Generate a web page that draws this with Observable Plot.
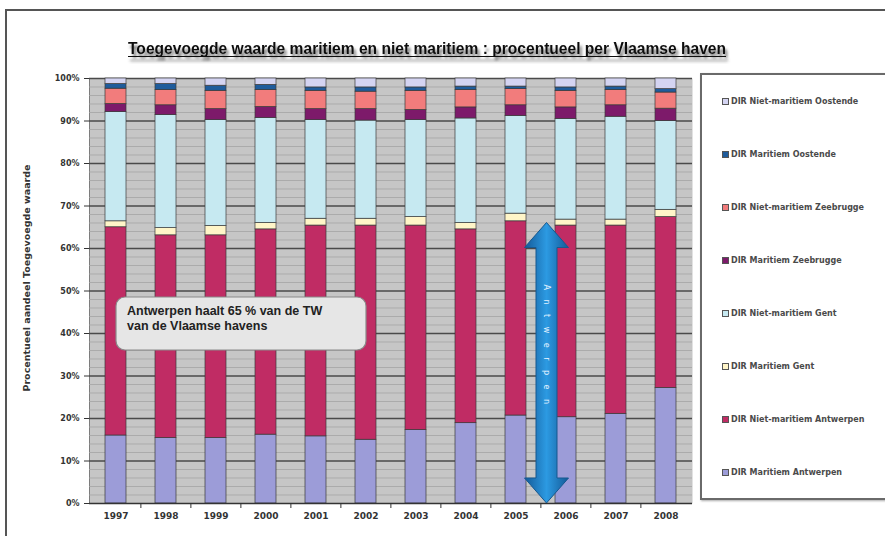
<!DOCTYPE html>
<html>
<head>
<meta charset="utf-8">
<script src="https://cdn.jsdelivr.net/npm/d3@7"></script>
<script src="https://cdn.jsdelivr.net/npm/@observablehq/plot@0.6"></script>
<style>
  body { margin: 0; background: #fff; }
  #wrap { position: relative; width: 885px; height: 536px; overflow: hidden; background: #fff; }
  #frame { position: absolute; left: 5px; top: 9px; width: 920px; height: 620px; border: 2px solid #555; box-sizing: border-box; }
  #chart, #overlay { position: absolute; left: 0; top: 0; }
  #overlay { pointer-events: none; }
  #legend { position: absolute; left: 700px; top: 73px; width: 220px; height: 427px; border: 2px solid #6a6a6a; background: #fff; box-sizing: border-box; box-shadow: 1px 1px 2px #aaa; }
  .item { position: absolute; left: 20px; font: bold 8px "DejaVu Sans", sans-serif; color: #4a4a4a; white-space: nowrap; display: flex; align-items: center; }
  .sw { width: 5px; height: 5px; border: 1px solid #555; margin-right: 2px; }
</style>
</head>
<body>
<div id="wrap">
  <div id="frame"></div>
  <div id="chart"></div>
  <div id="legend"></div>
  <svg id="overlay" width="885" height="536"></svg>
</div>
<script>
// ---------- data ----------
const years = ["1997","1998","1999","2000","2001","2002","2003","2004","2005","2006","2007","2008"];
const seriesNames = [
  "DIR Maritiem Antwerpen",
  "DIR Niet-maritiem Antwerpen",
  "DIR Maritiem Gent",
  "DIR Niet-maritiem Gent",
  "DIR Maritiem Zeebrugge",
  "DIR Niet-maritiem Zeebrugge",
  "DIR Maritiem Oostende",
  "DIR Niet-maritiem Oostende"
];
const seriesColors = ["#9c9cd8","#c02c64","#fff5c8","#c6e9f1","#7d1a6a","#f27c7c","#1f5c9c","#d4d4f2"];

const maritiemAntwerpen     = [16.0,15.4,15.4,16.2,15.8,15.0,17.3,18.9,20.7,20.3,21.1,27.2];
const nietMaritiemAntwerpen = [49.0,47.7,47.7,48.3,49.6,50.4,48.1,45.6,45.7,45.1,44.3,40.2];
const maritiemGent          = [1.4,1.7,2.2,1.5,1.6,1.6,2.0,1.5,1.8,1.4,1.4,1.7];
const nietMaritiemGent      = [25.7,26.6,24.9,24.7,23.2,23.1,22.8,24.6,23.0,23.7,24.2,20.9];
const maritiemZeebrugge     = [1.9,2.3,2.6,2.6,2.6,2.7,2.4,2.6,2.5,2.7,2.7,2.9];
const nietMaritiemZeebrugge = [3.6,3.6,4.3,4.0,4.3,4.1,4.5,4.1,3.8,3.9,3.6,3.8];
const maritiemOostende      = [1.1,1.4,1.2,1.2,0.8,1.0,0.8,0.8,0.6,0.8,0.8,0.8];
const nietMaritiemOostende  = [1.3,1.3,1.7,1.5,2.1,2.1,2.1,1.9,1.9,2.1,1.9,2.5];

const yMajorTicks = [0,10,20,30,40,50,60,70,80,90,100];
const yMinorTicks = d3.range(0, 101, 2).filter(v => v % 10 !== 0);

const titleText = "Toegevoegde waarde maritiem en niet maritiem : procentueel per Vlaamse haven";
const yTitleText = "Procentueel aandeel Toegevoegde waarde";
const noteLines = ["Antwerpen haalt 65 % van de TW", "van de Vlaamse havens"];
const arrowText = "Antwerpen";
const arrowTop = 66;   // % reached by the double arrow

// ---------- build rows ----------
const seriesValues = [maritiemAntwerpen, nietMaritiemAntwerpen, maritiemGent, nietMaritiemGent,
                      maritiemZeebrugge, nietMaritiemZeebrugge, maritiemOostende, nietMaritiemOostende];
const rows = [];
years.forEach((yr, i) => {
  seriesNames.forEach((s, k) => rows.push({year: yr, series: s, value: seriesValues[k][i]}));
});

const W = 885, H = 536, mL = 89, mR = 193, mT = 78, mB = 33;
const step = (W - mL - mR) / years.length;

const plot = Plot.plot({
  width: W, height: H,
  marginTop: mT, marginBottom: mB, marginLeft: mL, marginRight: mR,
  style: {fontFamily: "DejaVu Sans, sans-serif", fontWeight: "bold", fontSize: "8px", color: "#333", background: "transparent", overflow: "visible"},
  x: {domain: years, paddingInner: 0.58, paddingOuter: 0.29, tickSize: 0, tickPadding: 9, label: null},
  y: {domain: [0, 100], ticks: yMajorTicks, tickFormat: d => d + "%", tickSize: 5, tickPadding: 5, label: null, line: true},
  color: {domain: seriesNames, range: seriesColors},
  marks: [
    Plot.frame({fill: "#c6c6c6", stroke: "none"}),
    Plot.ruleY(yMinorTicks, {stroke: "#a4a4a4", strokeWidth: 0.8}),
    Plot.ruleY(yMajorTicks.filter(d => d > 0), {stroke: "#4a4a4a", strokeWidth: 1.3}),
    Plot.barY(rows, {x: "year", y: "value", fill: "series", stroke: "#3a3a3a", strokeWidth: 0.7}),
    Plot.ruleY([0], {stroke: "#333", strokeWidth: 1.5}),
    Plot.ruleX(years.slice(1), {x: d => d, dx: -step / 2, y1: 0, y2: 0, insetBottom: -5, stroke: "#333"})
  ]
});
document.getElementById("chart").appendChild(plot);

const svgSel = d3.select(plot);
svgSel.selectAll("g[aria-label^='x-axis'] text").attr("font-size", 9);

// ---------- legend ----------
const legend = document.getElementById("legend");
seriesNames.slice().reverse().forEach((s, i) => {
  const div = document.createElement("div");
  div.className = "item";
  div.style.top = (22 + i * 53) + "px";
  const sw = document.createElement("span");
  sw.className = "sw";
  sw.style.background = seriesColors[seriesNames.indexOf(s)];
  div.appendChild(sw);
  div.appendChild(document.createTextNode(s));
  legend.appendChild(div);
});

// ---------- overlay: title, axis title, note, arrow ----------
const ov = d3.select("#overlay");
const defs = ov.append("defs");
const f = defs.append("filter").attr("id", "shadow").attr("x", "-5%").attr("y", "-50%").attr("width", "110%").attr("height", "250%");
f.append("feDropShadow").attr("dx", 2).attr("dy", 4).attr("stdDeviation", 1.4).attr("flood-color", "#444").attr("flood-opacity", 0.85);
const g1 = defs.append("linearGradient").attr("id", "arrowGrad").attr("x1", 0).attr("x2", 1).attr("y1", 0).attr("y2", 0);
g1.append("stop").attr("offset", "0%").attr("stop-color", "#145a98");
g1.append("stop").attr("offset", "50%").attr("stop-color", "#2c9ae2");
g1.append("stop").attr("offset", "100%").attr("stop-color", "#145a98");

const tg = ov.append("g").attr("filter", "url(#shadow)");
tg.append("text").attr("x", 128).attr("y", 54)
  .attr("textLength", 598).attr("lengthAdjust", "spacingAndGlyphs")
  .attr("font-family", "Liberation Sans, Arial, sans-serif").attr("font-weight", "bold").attr("font-size", 16)
  .attr("fill", "#111").text(titleText);
tg.append("line").attr("x1", 128).attr("x2", 726).attr("y1", 56.5).attr("y2", 56.5).attr("stroke", "#111").attr("stroke-width", 1.2);

ov.append("text").attr("transform", "translate(30,278) rotate(-90)").attr("text-anchor", "middle")
  .attr("font-family", "DejaVu Sans, sans-serif").attr("font-weight", "bold").attr("font-size", 9.5)
  .attr("fill", "#333").text(yTitleText);

// note box
ov.append("rect").attr("x", 116).attr("y", 297).attr("width", 250).attr("height", 53).attr("rx", 9)
  .attr("fill", "#e6e6e6").attr("stroke", "#8a8a8a").attr("stroke-width", 1.2);
noteLines.forEach((t, i) => {
  ov.append("text").attr("x", 127).attr("y", 315 + i * 14.5)
    .attr("font-family", "Liberation Sans, Arial, sans-serif").attr("font-weight", "bold").attr("font-size", 12.5)
    .attr("fill", "#222").text(t);
});

// double arrow positioned through the plot's scales
let xs = null, ys = null;
try { xs = plot.scale("x"); ys = plot.scale("y"); } catch (e) {}
const bw = xs && xs.bandwidth != null ? xs.bandwidth : step * 0.42;
const x05 = xs ? xs.apply("2005") + bw / 2 : mL + step * 8.5;
const x06 = xs ? xs.apply("2006") + bw / 2 : mL + step * 9.5;
const cx = (x05 + x06) / 2 + 6;
const yTop = ys ? ys.apply(arrowTop) : H - mB - (H - mT - mB) * arrowTop / 100;
const yBot = ys ? ys.apply(0) : H - mB;
const hw = 22, sw = 10.5, hh = 25;
const pts = [
  [cx, yTop], [cx + hw, yTop + hh], [cx + sw, yTop + hh], [cx + sw, yBot - hh], [cx + hw, yBot - hh],
  [cx, yBot], [cx - hw, yBot - hh], [cx - sw, yBot - hh], [cx - sw, yTop + hh], [cx - hw, yTop + hh]
];
ov.append("path").attr("d", "M" + pts.map(p => p.join(",")).join("L") + "Z")
  .attr("fill", "url(#arrowGrad)").attr("stroke", "#17588f").attr("stroke-width", 1);
ov.append("text").attr("transform", `translate(${cx - 3},${yTop + 62}) rotate(90)`)
  .attr("font-family", "DejaVu Sans, sans-serif").attr("font-size", 8).attr("letter-spacing", 9.5)
  .attr("fill", "#e4f2ff").text(arrowText);
</script>
</body>
</html>
